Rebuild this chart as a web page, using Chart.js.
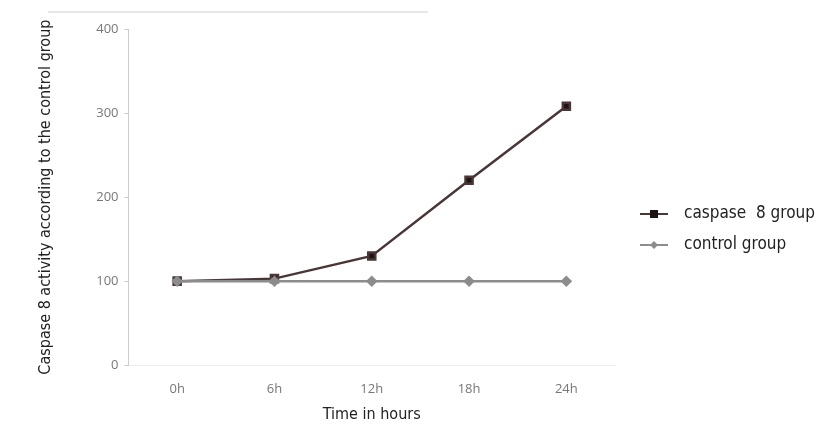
<!DOCTYPE html>
<html lang="en">

<head>
    <meta charset="UTF-8" />
    <title>Caspase 8 activity</title>
    <script src="https://cdn.jsdelivr.net/npm/chart.js"></script>
    <style>
        html, body { margin: 0; padding: 0; background: #fff; }
        #wrap { width: 821px; height: 430px; position: relative; }
    </style>
</head>

<body>
    <div id="wrap"><canvas id="grafica" width="821" height="430"></canvas></div>

    <script>
        const horas = ["0h", "6h", "12h", "18h", "24h"];
        const caspasa8 = [100, 103, 130, 220, 308];
        const control = [100, 100, 100, 100, 100];
        const ticksY = [0, 100, 200, 300, 400];

        const condensada = "'DejaVu Sans Condensed', 'Liberation Sans Narrow', sans-serif";

        // leyenda a la derecha con linea + marcador
        const leyenda = {
            id: "leyenda",
            afterDraw(chart) {
                const ctx = chart.ctx;
                const items = [
                    { texto: "caspase  8 group", color: "#4a3636", estilo: "rect", y: 214 },
                    { texto: "control group", color: "#8c8c8c", estilo: "rectRot", y: 245 }
                ];
                ctx.save();
                // linea gris arriba
                ctx.strokeStyle = "#d0d0d0";
                ctx.lineWidth = 1;
                ctx.beginPath();
                ctx.moveTo(48, 12);
                ctx.lineTo(428, 12);
                ctx.stroke();

                items.forEach(it => {
                    ctx.strokeStyle = it.color;
                    ctx.lineWidth = 2;
                    ctx.beginPath();
                    ctx.moveTo(640, it.y);
                    ctx.lineTo(668, it.y);
                    ctx.stroke();
                    ctx.fillStyle = it.estilo === "rect" ? "#1e1414" : "#8c8c8c";
                    ctx.beginPath();
                    if (it.estilo === "rect") {
                        ctx.rect(650, it.y - 4, 8, 8);
                    } else {
                        ctx.moveTo(654, it.y - 4);
                        ctx.lineTo(658, it.y);
                        ctx.lineTo(654, it.y + 4);
                        ctx.lineTo(650, it.y);
                        ctx.closePath();
                    }
                    ctx.fill();
                    ctx.fillStyle = "#222";
                    ctx.font = "17px " + condensada;
                    ctx.textBaseline = "middle";
                    ctx.fillText(it.texto, 684, it.y);
                });
                ctx.restore();
            }
        };

        new Chart(document.getElementById("grafica"), {
            type: "line",
            data: {
                labels: horas,
                datasets: [
                    {
                        label: "control group",
                        data: control,
                        borderColor: "#8c8c8c",
                        backgroundColor: "#8c8c8c",
                        borderWidth: 2.5,
                        pointStyle: "rectRot",
                        pointRadius: 4,
                        tension: 0
                    },
                    {
                        label: "caspase  8 group",
                        data: caspasa8,
                        borderColor: "#4a3636",
                        backgroundColor: "#1e1414",
                        borderWidth: 2.5,
                        pointStyle: "rect",
                        pointRadius: 5,
                        tension: 0
                    }
                ]
            },
            options: {
                responsive: false,
                animation: false,
                layout: { padding: { top: 29, right: 206, left: 32, bottom: 4 } },
                plugins: {
                    legend: { display: false },
                    tooltip: { enabled: false }
                },
                scales: {
                    x: {
                        offset: true,
                        grid: { display: false },
                        border: { display: true, color: "#eeeeee" },
                        ticks: { color: "#777", font: { size: 13, family: "'Open Sans', sans-serif" }, padding: 8 },
                        title: {
                            display: true, text: "Time in hours", color: "#222",
                            font: { size: 16, family: condensada }, padding: { top: 0, bottom: 2 }
                        }
                    },
                    y: {
                        min: 0,
                        max: 400,
                        afterBuildTicks: axis => { axis.ticks = ticksY.map(v => ({ value: v })); },
                        grid: { drawOnChartArea: false, drawTicks: true, tickLength: 4, color: "#cccccc" },
                        border: { display: true, color: "#cccccc" },
                        ticks: { color: "#777", font: { size: 13, family: "'Open Sans', sans-serif" }, padding: 6 },
                        title: {
                            display: true, text: "Caspase 8 activity according to the control group", color: "#222",
                            font: { size: 16, family: condensada }, padding: { bottom: 35 }
                        }
                    }
                }
            },
            plugins: [leyenda]
        });
    </script>
</body>

</html>
